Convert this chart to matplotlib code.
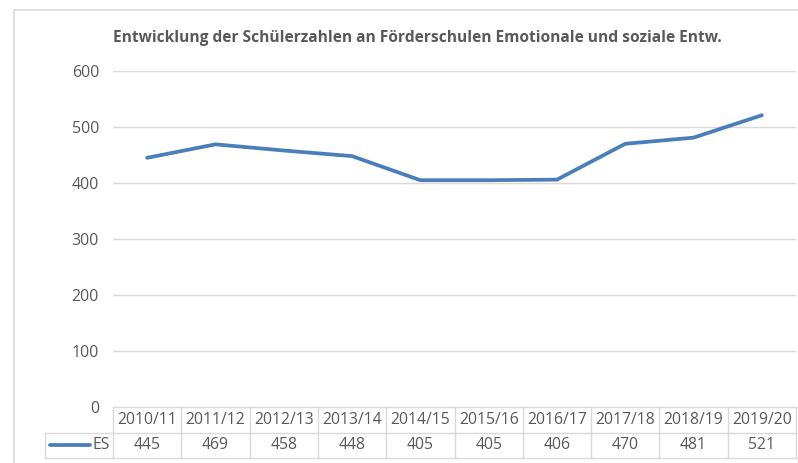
import matplotlib
matplotlib.use("Agg")
import matplotlib.pyplot as plt
from matplotlib.patches import Rectangle
from matplotlib.lines import Line2D

years = ["2010/11", "2011/12", "2012/13", "2013/14", "2014/15",
         "2015/16", "2016/17", "2017/18", "2018/19", "2019/20"]
es_values = [445, 469, 458, 448, 405, 405, 406, 470, 481, 521]
series_name = "ES"
title = "Entwicklung der Schülerzahlen an Förderschulen Emotionale und soziale Entw."
yticks = [0, 100, 200, 300, 400, 500, 600]

W, H = 798, 463
plt.rcParams['font.family'] = ['Open Sans', 'DejaVu Sans']
fig = plt.figure(figsize=(W / 100, H / 100), dpi=100)
fig.patch.set_facecolor("white")

txt = "#595959"
grid = "#d9d9d9"
line_c = "#4a7ebb"

# outer chart border
fig.add_artist(Rectangle((14 / W, -0.1), 1.2, (1 - 10 / H) + 0.1, transform=fig.transFigure,
                         fill=False, edgecolor="#d9d9d9", linewidth=1.2))

L, R = 113, 796
T, B = 71, 407
ax = fig.add_axes([L / W, 1 - B / H, (R - L) / W, (B - T) / H])
n = len(years)
xs = list(range(n))
ax.plot(xs, es_values, color=line_c, linewidth=2.7, solid_capstyle="round",
        solid_joinstyle="round", zorder=3)
ax.set_xlim(-0.5, n - 0.5)
ax.set_ylim(0, 600)
ax.set_yticks(yticks)
ax.set_yticklabels([str(v) for v in yticks], color=txt, fontsize=11.5)
ax.tick_params(axis="y", length=0, pad=10)
ax.set_xticks([])
for s in ax.spines.values():
    s.set_visible(False)
for v in yticks[1:]:
    ax.axhline(v, color=grid, linewidth=1.0, zorder=1)

fig.text(0.5 * (112 + 722) / W, 1 - 38 / H, title, ha="center", va="center",
         fontsize=11.2, fontweight="bold", color=txt)

# data table
tb_top, tb_mid, tb_bot = 407, 433, 458
tax = fig.add_axes([L / W, 1 - tb_bot / H, (R - L) / W, (tb_bot - tb_top) / H])
tax.set_xlim(-0.5, n - 0.5)
tax.set_ylim(0, 2)
tax.axis("off")
unit = (R - L) / n
leg_left = -0.5 - (L - 45) / unit
bc = "#d9d9d9"
lw = 1.0
# horizontal lines
tax.add_line(Line2D([-0.5, n - 0.5], [2, 2], color=bc, lw=lw, clip_on=False))
tax.add_line(Line2D([leg_left, n - 0.5], [1, 1], color=bc, lw=lw, clip_on=False))
tax.add_line(Line2D([leg_left, n - 0.5], [0, 0], color=bc, lw=lw, clip_on=False))
tax.add_line(Line2D([leg_left, leg_left], [0, 1], color=bc, lw=lw, clip_on=False))
for i in range(n + 1):
    tax.add_line(Line2D([i - 0.5, i - 0.5], [0, 2], color=bc, lw=lw, clip_on=False))
for i, (yr, v) in enumerate(zip(years, es_values)):
    tax.text(i, 1.5, yr, ha="center", va="center", fontsize=11.3, color=txt)
    tax.text(i, 0.5, str(v), ha="center", va="center", fontsize=11.3, color=txt)
# legend key
x_line0 = -0.5 - (L - 50) / unit
x_line1 = -0.5 - (L - 90) / unit
tax.add_line(Line2D([x_line0, x_line1], [0.5, 0.5], color=line_c, lw=2.7,
                    solid_capstyle="round", clip_on=False))
tax.text(-0.5 - (L - 92) / unit, 0.5, series_name, ha="left", va="center",
         fontsize=11.3, color=txt)

fig.savefig("out.png", dpi=100, facecolor="white")
